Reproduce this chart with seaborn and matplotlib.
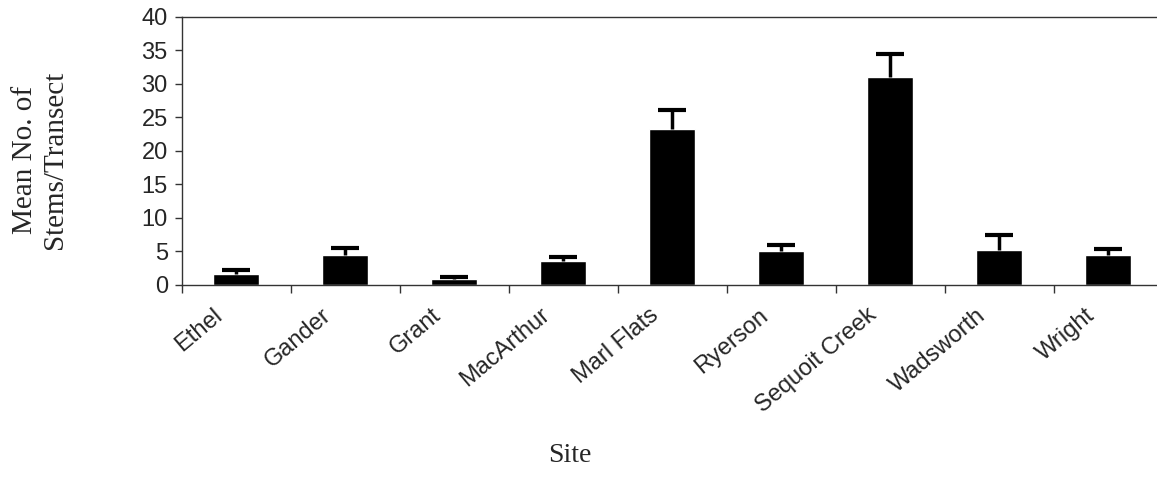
import numpy as np
import pandas as pd
import matplotlib
matplotlib.use('Agg')
import matplotlib.pyplot as plt
import seaborn as sns

# Values
sites = ['Ethel', 'Gander', 'Grant', 'MacArthur', 'Marl Flats',
         'Ryerson', 'Sequoit Creek', 'Wadsworth', 'Wright']
mean_stems = [1.7, 4.4, 0.9, 3.6, 23.3, 5.1, 31.1, 5.2, 4.5]
std_err = [0.5, 1.1, 0.3, 0.5, 2.8, 0.9, 3.4, 2.2, 0.8]

df = pd.DataFrame({'Site': sites, 'Mean': mean_stems, 'SE': std_err})

sns.set_style('white')
plt.rcParams['font.family'] = ['Liberation Sans', 'DejaVu Sans']

fig = plt.figure(figsize=(11.57, 4.93), dpi=100)
ax = fig.add_axes([0.157, 0.422, 0.848, 0.5436])

sns.barplot(data=df, x='Site', y='Mean', color='black', width=0.42,
            saturation=1, errorbar=None, ax=ax)

# upper error bars only
eb = ax.errorbar(np.arange(len(sites)), df['Mean'],
                 yerr=[np.zeros(len(sites)), df['SE']],
                 fmt='none', ecolor='black', elinewidth=2.5,
                 capsize=10, capthick=3)
eb[1][0].set_visible(False)  # no cap on the lower side

ax.set_ylim(0, 40)
ax.set_yticks(range(0, 41, 5))
ax.set_xlim(-0.5, len(sites) - 0.5)

# labels sit a little left of the bar centres; tick marks at boundaries
ax.set_xticks(np.arange(len(sites)) - 0.15)
ax.set_xticklabels(sites, rotation=40, ha='right', va='center',
                   rotation_mode='anchor', fontsize=17)
ax.set_xticks(np.arange(-0.5, len(sites)), minor=True)
ax.tick_params(axis='x', which='major', length=0, pad=20)
ax.tick_params(axis='x', which='minor', length=6, width=1, color='#333333',
               direction='out', bottom=True)
ax.tick_params(axis='y', length=5, width=1, color='#333333', direction='out',
               left=True, labelsize=17, pad=5)

for side in ['left', 'bottom', 'top']:
    ax.spines[side].set_color('#333333')
    ax.spines[side].set_linewidth(1)
ax.spines['right'].set_visible(False)

ax.set_xlabel('')
ax.set_ylabel('')
fig.text(570 / 1157, 1 - 455 / 493, 'Site', fontsize=20,
         family='Liberation Serif', ha='center', va='center')
fig.text(40 / 1157, 1 - 160 / 493, 'Mean No. of\nStems/Transect', fontsize=21,
         family='Liberation Serif', ha='center', va='center', rotation=90,
         linespacing=1.2)

fig.savefig('out.png', dpi=100)
